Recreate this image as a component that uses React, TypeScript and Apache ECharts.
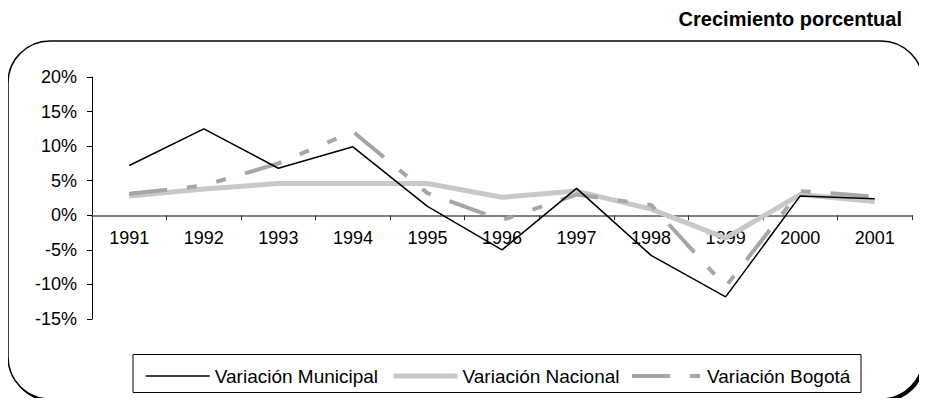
import React, { useEffect, useRef } from "react";
import * as echarts from "echarts";

const years = ["1991", "1992", "1993", "1994", "1995", "1996", "1997", "1998", "1999", "2000", "2001"];
const municipal = [7.2, 12.5, 6.8, 9.9, 1.3, -5.0, 3.9, -5.8, -11.8, 2.8, 2.4];
const nacional = [2.8, 3.8, 4.6, 4.6, 4.6, 2.6, 3.5, 0.9, -3.3, 3.0, 2.0];
const bogota = [3.1, 4.3, 7.5, 12.1, 3.2, -0.7, 3.0, 1.5, -10.3, 3.5, 2.7];
const seriesNames = ["Variación Municipal", "Variación Nacional", "Variación Bogotá"];
const titleText = "Crecimiento porcentual";

const FONT = "'Liberation Sans', Arial, Helvetica, sans-serif";
const dash = [38, 20, 10, 20, 10, 20];
const Y_MIN = -15;
const Y_MAX = 20;
const GRID_TOP = 77;
const GRID_BOTTOM = 87;
const GRID_H = 406 - GRID_TOP - GRID_BOTTOM;

export default function App() {
  const ref = useRef<HTMLDivElement>(null);
  useEffect(() => {
    if (!ref.current) return;
    const chart = echarts.init(ref.current, undefined, { renderer: "svg" });
    const zeroOffset = (-Y_MIN / (Y_MAX - Y_MIN)) * GRID_H;
    const legendBase = {
      orient: "horizontal",
      top: 366.5,
      padding: 0,
      itemHeight: 10,
      selectedMode: false,
      itemStyle: { opacity: 0, borderWidth: 0 },
      textStyle: { fontFamily: FONT, fontSize: 19, color: "#000" },
    };
    chart.setOption({
      animation: false,
      backgroundColor: "#fff",
      textStyle: { fontFamily: FONT },
      title: {
        text: titleText,
        right: 25,
        top: 9,
        padding: 0,
        textStyle: { fontFamily: FONT, fontSize: 20, fontWeight: "bold", color: "#000" },
      },
      grid: { left: 92, right: 15, top: GRID_TOP, bottom: GRID_BOTTOM, containLabel: false },
      xAxis: {
        type: "category",
        data: years,
        boundaryGap: true,
        position: "bottom",
        offset: -zeroOffset,
        axisLine: { show: true, onZero: false, lineStyle: { color: "#808080", width: 2 } },
        axisTick: { show: true, interval: 0, length: 5, lineStyle: { color: "#333", width: 1 } },
        axisLabel: { interval: 0, margin: 14, color: "#000", fontSize: 18, fontFamily: FONT },
        splitLine: { show: false },
      },
      yAxis: {
        type: "value",
        min: Y_MIN,
        max: Y_MAX,
        interval: 5,
        axisLine: { show: true, lineStyle: { color: "#000", width: 1 } },
        axisTick: { show: true, length: 5, lineStyle: { color: "#000", width: 1 } },
        axisLabel: { formatter: "{value}%", margin: 15, color: "#000", fontSize: 18, fontFamily: FONT },
        splitLine: { show: false },
      },
      legend: [
        { ...legendBase, left: 145, itemWidth: 64, data: [seriesNames[0]], lineStyle: { width: 1.5, color: "#000" } },
        { ...legendBase, left: 391, itemWidth: 64, data: [seriesNames[1]], lineStyle: { width: 5, color: "#c8c8c8" } },
        { ...legendBase, left: 630, itemWidth: 70, data: [seriesNames[2]], lineStyle: { width: 4, color: "#a6a6a6", type: dash } },
      ],
      graphic: [
        {
          type: "rect",
          z: -10,
          silent: true,
          shape: { x: 10, y: 44, width: 915, height: 358, r: 42 },
          style: { fill: "#000" },
        },
        {
          type: "rect",
          z: -9,
          silent: true,
          shape: { x: 8, y: 41, width: 915, height: 358, r: 42 },
          style: { fill: "#fff", stroke: "#000", lineWidth: 1.5 },
        },
        {
          type: "rect",
          z: -8,
          silent: true,
          shape: { x: 133, y: 354.5, width: 728, height: 38 },
          style: { fill: "none", stroke: "#000", lineWidth: 1 },
        },
      ],
      series: [
        {
          name: seriesNames[0],
          type: "line",
          data: municipal,
          symbol: "none",
          z: 4,
          lineStyle: { color: "#000", width: 1.5 },
          itemStyle: { color: "#000" },
        },
        {
          name: seriesNames[1],
          type: "line",
          data: nacional,
          symbol: "none",
          z: 2,
          lineStyle: { color: "#c8c8c8", width: 5 },
          itemStyle: { color: "#c8c8c8" },
        },
        {
          name: seriesNames[2],
          type: "line",
          data: bogota,
          symbol: "none",
          z: 3,
          lineStyle: { color: "#a6a6a6", width: 4, type: dash },
          itemStyle: { color: "#a6a6a6" },
        },
      ],
    });
    return () => chart.dispose();
  }, []);
  return <div ref={ref} style={{ width: 927, height: 406, margin: -8 }} />;
}
